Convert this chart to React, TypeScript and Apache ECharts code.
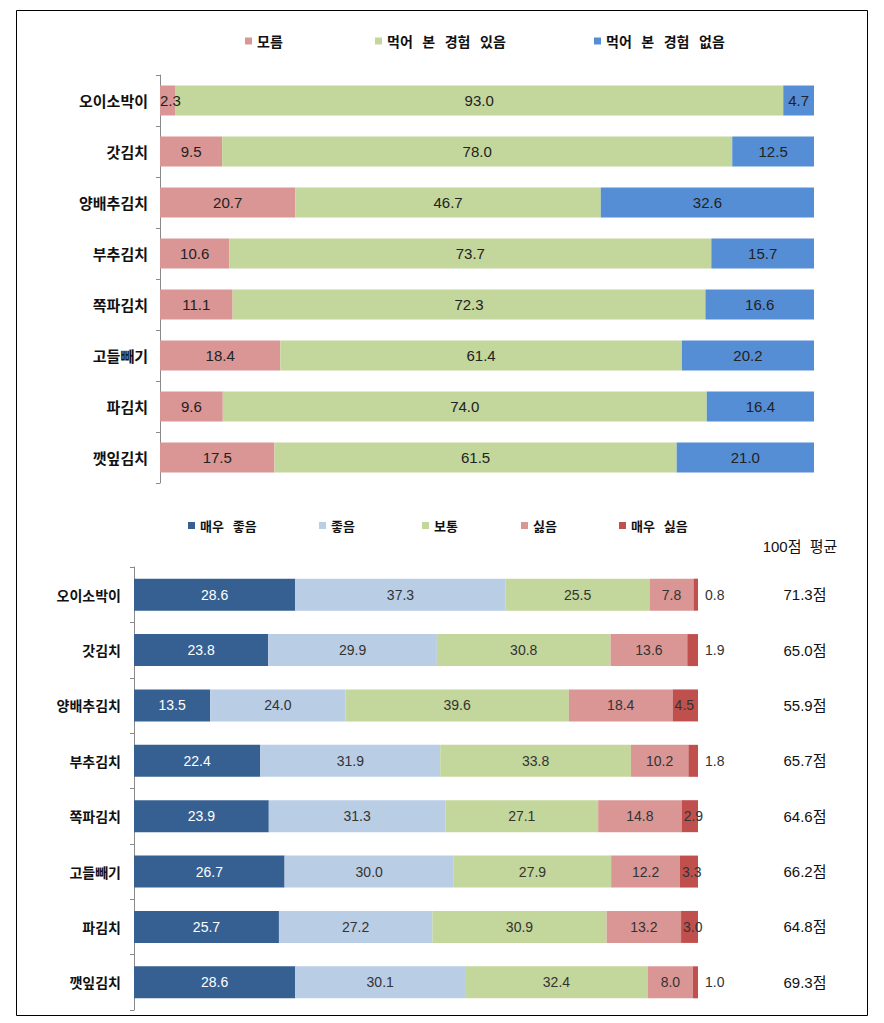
import React, { useEffect, useRef } from "react";
import * as echarts from "echarts";

const categories = ["오이소박이", "갓김치", "양배추김치", "부추김치", "쪽파김치", "고들빼기", "파김치", "깻잎김치"];
const topSeriesNames = ["모름", "먹어 본 경험 있음", "먹어 본 경험 없음"];
const unknownVals = [2.3, 9.5, 20.7, 10.6, 11.1, 18.4, 9.6, 17.5];
const eatenVals = [93.0, 78.0, 46.7, 73.7, 72.3, 61.4, 74.0, 61.5];
const notEatenVals = [4.7, 12.5, 32.6, 15.7, 16.6, 20.2, 16.4, 21.0];

const bottomSeriesNames = ["매우 좋음", "좋음", "보통", "싫음", "매우 싫음"];
const veryGoodVals = [28.6, 23.8, 13.5, 22.4, 23.9, 26.7, 25.7, 28.6];
const goodVals = [37.3, 29.9, 24.0, 31.9, 31.3, 30.0, 27.2, 30.1];
const neutralVals = [25.5, 30.8, 39.6, 33.8, 27.1, 27.9, 30.9, 32.4];
const badVals = [7.8, 13.6, 18.4, 10.2, 14.8, 12.2, 13.2, 8.0];
const veryBadVals = [0.8, 1.9, 4.5, 1.8, 2.9, 3.3, 3.0, 1.0];
const scoreVals = [71.3, 65.0, 55.9, 65.7, 64.6, 66.2, 64.8, 69.3];
const scoreHeader = "100점  평균";

const topColors = ["#D99694", "#C3D69B", "#558ED5"];
const bottomColors = ["#376092", "#B9CDE5", "#C3D69B", "#D99694", "#C0504D"];

const KR = "'Noto Sans CJK KR', 'Noto Sans', sans-serif";
const NUM = "'Liberation Sans', Arial, 'Noto Sans CJK KR', sans-serif";

export default function App() {
  const ref = useRef<HTMLDivElement>(null);
  useEffect(() => {
    if (!ref.current) return;
    const chart = echarts.init(ref.current, null, { renderer: "svg" });
    const fmt = (p: any) => Number(p.value).toFixed(1);

    const topData = [unknownVals, eatenVals, notEatenVals];
    const topSeries = topData.map((vals, i) => ({
      name: topSeriesNames[i],
      type: "bar",
      stack: "top",
      xAxisIndex: 0,
      yAxisIndex: 0,
      barWidth: 30,
      itemStyle: { color: topColors[i] },
      label: {
        show: true,
        position: "inside",
        formatter: fmt,
        fontFamily: NUM,
        fontSize: 15,
        color: "#222",
      },
      data: vals.map((v) =>
        i === 0 && v < 5
          ? { value: v, label: { position: "insideLeft", distance: 0 } }
          : v
      ),
    }));

    const bottomData = [veryGoodVals, goodVals, neutralVals, badVals, veryBadVals];
    const bottomSeries = bottomData.map((vals, i) => ({
      name: bottomSeriesNames[i],
      type: "bar",
      stack: "bottom",
      xAxisIndex: 1,
      yAxisIndex: 1,
      barWidth: 32,
      itemStyle: { color: bottomColors[i] },
      label: {
        show: true,
        position: "inside",
        formatter: fmt,
        fontFamily: NUM,
        fontSize: 14,
        color: i === 0 ? "#ffffff" : "#333",
      },
      data: vals.map((v) =>
        i === 4
          ? v >= 2.5
            ? { value: v, label: { position: "insideLeft", distance: 2 } }
            : { value: v, label: { position: "right", distance: 7 } }
          : v
      ),
    }));

    const legendText = { fontFamily: KR, fontSize: 14, fontWeight: "bold", color: "#111" };
    const topLegendX = [245, 375, 594];
    const bottomLegendX = [188, 319, 422, 521, 619];
    const spaced = (n: string) => n.replace(/ /g, "   ");

    const legends: any[] = [];
    topSeriesNames.forEach((n, i) =>
      legends.push({
        data: [n],
        left: topLegendX[i],
        top: 34,
        icon: "rect",
        itemWidth: 7,
        itemHeight: 7,
        itemGap: 0,
        formatter: spaced,
        textStyle: legendText,
        padding: 0,
        selectedMode: false,
      })
    );
    bottomSeriesNames.forEach((n, i) =>
      legends.push({
        data: [n],
        left: bottomLegendX[i],
        top: 519,
        icon: "rect",
        itemWidth: 7,
        itemHeight: 7,
        itemGap: 0,
        formatter: spaced,
        textStyle: { ...legendText, fontSize: 13 },
        padding: 0,
        selectedMode: false,
      })
    );

    const axisLine = { show: true, lineStyle: { color: "#8a8a8a", width: 1 } };

    chart.setOption({
      animation: false,
      backgroundColor: "#ffffff",
      legend: legends,
      grid: [
        { left: 160, right: 70, top: 75, height: 408 },
        { left: 134, right: 186, top: 567, height: 443 },
      ],
      xAxis: [
        { gridIndex: 0, type: "value", min: 0, max: 100, show: false },
        { gridIndex: 1, type: "value", min: 0, max: 100, show: false },
      ],
      yAxis: [
        {
          gridIndex: 0,
          type: "category",
          data: categories,
          inverse: true,
          axisLine,
          axisTick: { show: true, length: 4, lineStyle: { color: "#8a8a8a" } },
          axisLabel: { fontFamily: KR, fontSize: 15, fontWeight: "bold", color: "#111", margin: 12 },
        },
        {
          gridIndex: 1,
          type: "category",
          data: categories,
          inverse: true,
          axisLine,
          axisTick: { show: true, length: 4, lineStyle: { color: "#8a8a8a" } },
          axisLabel: { fontFamily: KR, fontSize: 14, fontWeight: "bold", color: "#111", margin: 13 },
        },
        {
          gridIndex: 1,
          type: "category",
          position: "right",
          data: scoreVals.map((v) => v.toFixed(1) + "점"),
          inverse: true,
          axisLine: { show: false },
          axisTick: { show: false },
          axisLabel: { fontFamily: NUM, fontSize: 15, color: "#111", margin: 107, align: "center" },
        },
      ],
      series: [...topSeries, ...bottomSeries],
      graphic: [
        {
          type: "rect",
          shape: { x: 16.5, y: 10.5, width: 851, height: 1005 },
          style: { fill: "none", stroke: "#000", lineWidth: 1 },
          silent: true,
        },
        {
          type: "text",
          x: 800,
          y: 546,
          style: {
            text: scoreHeader,
            fontFamily: NUM,
            fontSize: 15,
            fill: "#111",
            textAlign: "center",
            textVerticalAlign: "middle",
          },
        },
      ],
    });
    return () => chart.dispose();
  }, []);

  return (
    <div
      ref={ref}
      style={{ position: "absolute", left: 0, top: 0, width: 884, height: 1023 }}
    />
  );
}
